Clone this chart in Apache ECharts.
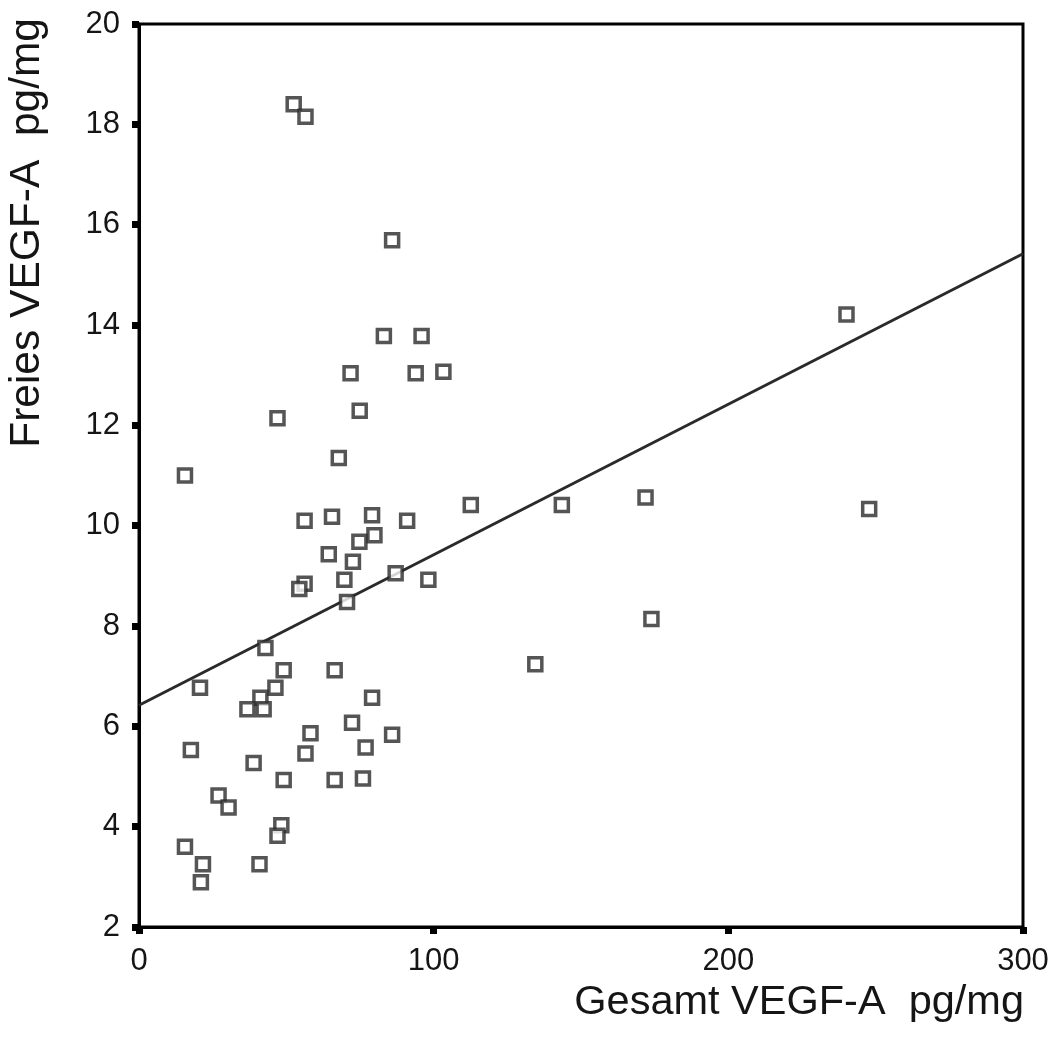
<!DOCTYPE html>
<html>
<head>
<meta charset="utf-8">
<script src="https://cdn.jsdelivr.net/npm/echarts@6/dist/echarts.min.js"></script>
<style>
  html, body { margin: 0; padding: 0; background: #fff; }
  #chart { width: 1056px; height: 1044px; }
</style>
</head>
<body>
<div id="chart"></div>
<script>
// Gesamt VEGF-A (x) vs. freies VEGF-A (y), both in pg/mg
const gesamtVegf = [
  47.0, 67.8, 15.6, 56.2, 65.5, 79.1, 91.0, 112.6, 79.9, 74.8,
  64.4, 72.6, 69.7, 87.1, 98.2, 56.2, 54.4, 70.6, 42.9,
  49.1, 66.4, 20.7, 46.3, 41.2, 79.1, 36.8, 42.3, 72.3, 58.2,
  85.9, 17.6, 76.9, 56.5, 38.9, 49.1, 66.4, 76.0, 27.0, 30.4,
  48.3, 47.0, 15.6, 21.7, 40.9, 21.0,
  52.5, 56.5, 85.9, 83.1, 95.9, 71.8, 93.9, 103.3, 74.9,
  240.1, 143.5, 171.9, 247.8, 173.9, 134.5
];
const freiesVegf = [
  12.14, 11.35, 11.0, 10.1, 10.18, 10.21, 10.1, 10.41, 9.81, 9.68,
  9.43, 9.28, 8.92, 9.05, 8.92, 8.84, 8.74, 8.48, 7.56,
  7.12, 7.12, 6.77, 6.77, 6.57, 6.57, 6.34, 6.34, 6.07, 5.86,
  5.83, 5.53, 5.58, 5.46, 5.27, 4.93, 4.93, 4.96, 4.62, 4.38,
  4.03, 3.82, 3.60, 3.25, 3.25, 2.89,
  18.40, 18.15, 15.69, 13.78, 13.78, 13.04, 13.04, 13.07, 12.29,
  14.21, 10.41, 10.56, 10.33, 8.14, 7.24
];

// Linear regression line, endpoints at the axis limits
const fitX = [0, 300];
const fitY = [6.42, 15.42];

// Axis ranges and labels
const xTicks = [0, 100, 200, 300];
const yTicks = [2, 4, 6, 8, 10, 12, 14, 16, 18, 20];
const xTitle = 'Gesamt VEGF-A  pg/mg';
const yTitle = 'Freies VEGF-A  pg/mg';

const points = gesamtVegf.map((x, i) => [x, freiesVegf[i]]);
const fitLine = fitX.map((x, i) => [x, fitY[i]]);

const FONT = '"Liberation Sans", Arial, sans-serif';
const INK = '#151515';

const chart = echarts.init(document.getElementById('chart'), null, { renderer: 'canvas' });

const axisCommon = {
  type: 'value',
  splitLine: { show: false },
  axisLine: { show: true, onZero: false, lineStyle: { color: '#000', width: 3 } },
  axisTick: { show: true, length: 7, lineStyle: { color: '#000', width: 7 } },
  axisLabel: { color: INK, fontFamily: FONT, fontSize: 31 }
};

chart.setOption({
  backgroundColor: '#fff',
  animation: false,
  grid: {
    left: 139, right: 33, top: 24, bottom: 117,
    show: true, borderColor: '#000', borderWidth: 3, backgroundColor: 'transparent'
  },
  xAxis: Object.assign({}, axisCommon, {
    min: xTicks[0], max: xTicks[xTicks.length - 1], interval: xTicks[1] - xTicks[0],
    axisLabel: Object.assign({}, axisCommon.axisLabel, { margin: 19 })
  }),
  yAxis: Object.assign({}, axisCommon, {
    min: yTicks[0], max: yTicks[yTicks.length - 1], interval: yTicks[1] - yTicks[0],
    axisLabel: Object.assign({}, axisCommon.axisLabel, { margin: 19 })
  }),
  graphic: [
    {
      type: 'text', right: 32, top: 982,
      style: { text: xTitle, fill: INK, font: '41.5px ' + FONT }
    },
    {
      type: 'text', x: 6, y: 18, rotation: Math.PI / 2,
      style: { text: yTitle, fill: INK, font: '42.5px ' + FONT, textAlign: 'right', textVerticalAlign: 'top' }
    }
  ],
  series: [
    {
      type: 'line',
      data: fitLine,
      showSymbol: false,
      lineStyle: { color: '#2a2a2a', width: 3 },
      z: 2
    },
    {
      type: 'scatter',
      data: points,
      symbol: 'rect',
      symbolSize: 13,
      itemStyle: { color: '#fff', borderColor: '#2a2a2a', borderWidth: 3.5 },
      z: 3
    }
  ]
});
</script>
</body>
</html>
